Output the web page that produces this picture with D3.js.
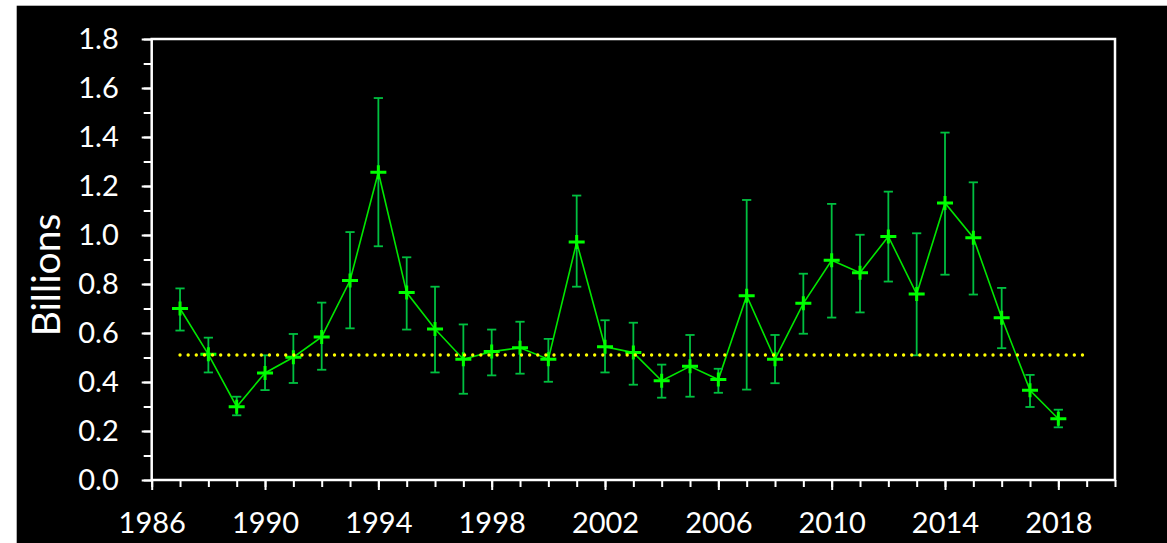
<!DOCTYPE html>
<html>
<head>
<meta charset="utf-8">
<script src="https://cdn.jsdelivr.net/npm/d3@7"></script>
<style>
    html, body { margin: 0; padding: 0; background: #ffffff; }
    svg { display: block; }
    .axis text { fill: #ffffff; font-family: Lato, "Open Sans", sans-serif; }
    .axis line { stroke: #ffffff; stroke-width: 2; }
    .axis path { display: none; }
</style>
</head>
<body>
<div id="chart"></div>
<script>
const WIDTH = 1167;
const HEIGHT = 543;
const PLOT = { left: 151.7, right: 1115, top: 39, bottom: 480 };

const YEARS = [1987, 1988, 1989, 1990, 1991, 1992, 1993, 1994, 1995, 1996, 1997,
    1998, 1999, 2000, 2001, 2002, 2003, 2004, 2005, 2006, 2007, 2008, 2009,
    2010, 2011, 2012, 2013, 2014, 2015, 2016, 2017, 2018];
const VALUES = [0.700, 0.513, 0.299, 0.437, 0.501, 0.584, 0.814, 1.256, 0.765, 0.616,
    0.493, 0.524, 0.540, 0.493, 0.971, 0.544, 0.520, 0.405, 0.464, 0.410, 0.752,
    0.493, 0.721, 0.897, 0.846, 0.994, 0.759, 1.131, 0.989, 0.662, 0.366, 0.250];
const UPPER = [0.782, 0.581, 0.340, 0.509, 0.596, 0.724, 1.012, 1.559, 0.909, 0.789,
    0.635, 0.614, 0.646, 0.576, 1.161, 0.652, 0.642, 0.471, 0.592, 0.454, 1.143,
    0.592, 0.842, 1.127, 1.001, 1.177, 1.007, 1.418, 1.215, 0.784, 0.429, 0.287];
const LOWER = [0.610, 0.439, 0.264, 0.367, 0.396, 0.450, 0.619, 0.954, 0.614, 0.439,
    0.352, 0.427, 0.434, 0.401, 0.789, 0.439, 0.389, 0.336, 0.340, 0.356, 0.369,
    0.395, 0.597, 0.663, 0.684, 0.810, 0.509, 0.838, 0.757, 0.538, 0.298, 0.215];

// long-term average, drawn as a dotted line
const MEAN_VALUE = 0.51;
const MEAN_YEARS = [1987, 2019];

const X_DOMAIN = [1986, 2020];
const Y_DOMAIN = [0, 1.8];
const X_MAJOR_TICKS = d3.range(1986, 2019, 4);
const X_MINOR_TICKS = d3.range(1986, 2021, 1);
const Y_MAJOR_TICKS = d3.range(0, 1.81, 0.2);
const Y_MINOR_TICKS = d3.range(0, 1.81, 0.1);
const Y_LABEL = "Billions";

const points = YEARS.map((year, i) => ({
    year: year,
    value: VALUES[i],
    upper: UPPER[i],
    lower: LOWER[i]
}));

const x = d3.scaleLinear().domain(X_DOMAIN).range([PLOT.left, PLOT.right]);
const y = d3.scaleLinear().domain(Y_DOMAIN).range([PLOT.bottom, PLOT.top]);

const svg = d3.select("#chart")
    .append("svg")
    .attr("width", WIDTH)
    .attr("height", HEIGHT);

// Black panel, leaving a thin white margin at the top and left
svg.append("rect")
    .attr("x", 16.7)
    .attr("y", 5.7)
    .attr("width", WIDTH - 16.7)
    .attr("height", HEIGHT - 5.7)
    .attr("fill", "#000000");

// Minor ticks first, then the labelled major ones on top
svg.append("g")
    .attr("class", "axis")
    .attr("transform", `translate(0,${PLOT.bottom})`)
    .call(d3.axisBottom(x).tickValues(X_MINOR_TICKS).tickSize(7).tickFormat(""));

svg.append("g")
    .attr("class", "axis")
    .attr("transform", `translate(0,${PLOT.bottom})`)
    .call(d3.axisBottom(x).tickValues(X_MAJOR_TICKS).tickSize(10).tickPadding(22)
        .tickFormat(d3.format("d")))
    .selectAll("text")
    .style("font-size", "29px");

svg.append("g")
    .attr("class", "axis")
    .attr("transform", `translate(${PLOT.left},0)`)
    .call(d3.axisLeft(y).tickValues(Y_MINOR_TICKS).tickSize(8).tickFormat(""));

svg.append("g")
    .attr("class", "axis")
    .attr("transform", `translate(${PLOT.left},0)`)
    .call(d3.axisLeft(y).tickValues(Y_MAJOR_TICKS).tickSize(10).tickPadding(23)
        .tickFormat(d3.format(".1f")))
    .selectAll("text")
    .style("font-size", "29px");

// Plot frame
svg.append("rect")
    .attr("x", PLOT.left)
    .attr("y", PLOT.top)
    .attr("width", PLOT.right - PLOT.left)
    .attr("height", PLOT.bottom - PLOT.top)
    .attr("fill", "none")
    .attr("stroke", "#ffffff")
    .attr("stroke-width", 2.5);

svg.append("text")
    .attr("transform", "translate(60,275) rotate(-90)")
    .attr("text-anchor", "middle")
    .attr("fill", "#ffffff")
    .style("font-family", "Lato, 'Open Sans', sans-serif")
    .style("font-size", "39px")
    .text(Y_LABEL);

// Series line
svg.append("path")
    .datum(points)
    .attr("fill", "none")
    .attr("stroke", "#00e600")
    .attr("stroke-width", 1.6)
    .attr("d", d3.line().x(d => x(d.year)).y(d => y(d.value)));

// Error bars with caps
const errorBars = svg.append("g")
    .attr("stroke", "#00c040")
    .attr("stroke-width", 1.8)
    .selectAll("g")
    .data(points)
    .join("g");

errorBars.append("line")
    .attr("x1", d => x(d.year))
    .attr("x2", d => x(d.year))
    .attr("y1", d => y(d.upper))
    .attr("y2", d => y(d.lower));

errorBars.append("line")
    .attr("x1", d => x(d.year) - 4.6)
    .attr("x2", d => x(d.year) + 4.6)
    .attr("y1", d => y(d.upper))
    .attr("y2", d => y(d.upper));

errorBars.append("line")
    .attr("x1", d => x(d.year) - 4.6)
    .attr("x2", d => x(d.year) + 4.6)
    .attr("y1", d => y(d.lower))
    .attr("y2", d => y(d.lower));

// Plus-shaped markers
svg.append("g")
    .selectAll("path")
    .data(points)
    .join("path")
    .attr("fill", "none")
    .attr("stroke", "#00ff00")
    .attr("stroke-width", 3)
    .attr("d", d => {
        const cx = x(d.year);
        const cy = y(d.value);
        return `M${cx - 8},${cy}H${cx + 8}M${cx},${cy - 7}V${cy + 7}`;
    });

// Dotted average line
svg.append("line")
    .attr("x1", x(MEAN_YEARS[0]))
    .attr("x2", x(MEAN_YEARS[1]))
    .attr("y1", y(MEAN_VALUE))
    .attr("y2", y(MEAN_VALUE))
    .attr("stroke", "#ffff00")
    .attr("stroke-width", 3.4)
    .attr("stroke-linecap", "round")
    .attr("stroke-dasharray", "0 8.13");
</script>
</body>
</html>
